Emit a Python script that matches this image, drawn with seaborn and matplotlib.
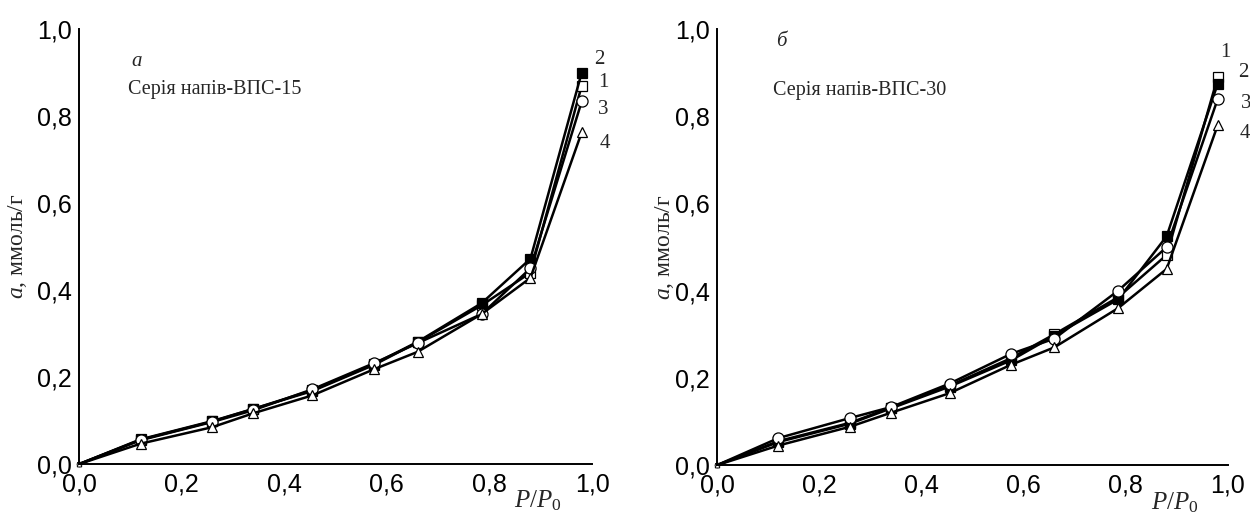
import matplotlib

matplotlib.use("Agg")

import matplotlib.pyplot as plt
import numpy as np
import pandas as pd
import seaborn as sns
from matplotlib.ticker import FuncFormatter, MultipleLocator


P_REL = [0.0, 0.12, 0.26, 0.34, 0.455, 0.575, 0.66, 0.785, 0.88, 0.98]

# panel a: серія напів-ВПС-15
A_S1 = [0.0, 0.057, 0.099, 0.127, 0.168, 0.228, 0.280, 0.365, 0.440, 0.870]
A_S2 = [0.0, 0.056, 0.098, 0.127, 0.170, 0.230, 0.281, 0.370, 0.472, 0.900]
A_S3 = [0.0, 0.055, 0.097, 0.124, 0.172, 0.232, 0.278, 0.345, 0.450, 0.834]
A_S4 = [0.0, 0.047, 0.085, 0.117, 0.158, 0.218, 0.258, 0.345, 0.428, 0.763]

# panel б: серія напів-ВПС-30
B_S1 = [0.0, 0.055, 0.097, 0.132, 0.182, 0.245, 0.300, 0.385, 0.482, 0.890]
B_S2 = [0.0, 0.053, 0.095, 0.130, 0.180, 0.240, 0.297, 0.380, 0.525, 0.875]
B_S3 = [0.0, 0.062, 0.108, 0.133, 0.187, 0.255, 0.290, 0.400, 0.500, 0.840]
B_S4 = [0.0, 0.045, 0.088, 0.120, 0.165, 0.230, 0.270, 0.360, 0.450, 0.780]

SERIES_NAMES = ["1", "2", "3", "4"]
MARKERS = ["s", "s", "o", "^"]
FACES = ["white", "black", "white", "white"]

PANELS = [
    {"letter": "a", "title": "Серія напів-ВПС-15", "data": [A_S1, A_S2, A_S3, A_S4],
     "letter_pos": (0.102, 0.925), "title_x": 0.095, "ylab_x": -0.097,
     "labels": [(1.005, 0.93, "2"), (1.012, 0.878, "1"), (1.012, 0.814, "3"), (1.014, 0.738, "4")]},
    {"letter": "б", "title": "Серія напів-ВПС-30", "data": [B_S1, B_S2, B_S3, B_S4],
     "letter_pos": (0.115, 0.972), "title_x": 0.109, "ylab_x": -0.08,
     "labels": [(0.984, 0.947, "1"), (1.02, 0.90, "2"), (1.025, 0.83, "3"), (1.022, 0.76, "4")]},
]


def comma(x, _):
    return f"{x:.1f}".replace(".", ",")


def draw_panel(ax, panel):
    for vals, name, mk, fc in zip(panel["data"], SERIES_NAMES, MARKERS, FACES):
        df = pd.DataFrame({"p": P_REL, "a": vals})
        sns.lineplot(data=df, x="p", y="a", ax=ax, color="black", linewidth=1.8,
                     marker=mk, markersize=7.5 if mk != "o" else 8, markerfacecolor=fc,
                     markeredgecolor="black", markeredgewidth=0.9,
                     markevery=list(range(1, len(P_REL))), clip_on=False)
        # tiny point at the origin
        ax.plot(P_REL[0], vals[0], marker=mk, markersize=3.5, markerfacecolor="white",
                markeredgecolor="black", markeredgewidth=0.6, clip_on=False)

    ax.set_xlim(0, 1)
    ax.set_ylim(0, 1)
    ax.xaxis.set_major_locator(MultipleLocator(0.2))
    ax.xaxis.set_minor_locator(MultipleLocator(0.1))
    ax.yaxis.set_major_locator(MultipleLocator(0.2))
    ax.yaxis.set_minor_locator(MultipleLocator(0.1))
    ax.xaxis.set_major_formatter(FuncFormatter(comma))
    ax.yaxis.set_major_formatter(FuncFormatter(comma))
    ax.tick_params(which="both", direction="in", width=1.3, color="black",
                   labelsize=18, labelcolor="black", labelfontfamily="Liberation Sans")
    ax.tick_params(axis="x", pad=6)
    ax.tick_params(axis="y", pad=5)
    ax.tick_params(which="major", length=5)
    ax.tick_params(which="minor", length=3.5)

    for side in ["top", "right"]:
        ax.spines[side].set_visible(False)
    for side in ["left", "bottom"]:
        ax.spines[side].set_color("black")
        ax.spines[side].set_linewidth(1.4)

    ax.set_xlabel("")
    ax.set_ylabel(r"$a$, ммоль/г", family="Liberation Serif", fontsize=17)
    ax.yaxis.set_label_coords(panel["ylab_x"], 0.5)

    ax.text(0.895, -0.085, r"$P/P_0$", transform=ax.transAxes, fontsize=18,
            ha="center", va="center")
    lx, ly = panel["letter_pos"]
    ax.text(lx, ly, panel["letter"], transform=ax.transAxes, fontsize=15,
            style="italic", family="Liberation Serif", ha="left", va="center")
    ax.text(panel["title_x"], 0.86, panel["title"], transform=ax.transAxes, fontsize=14.5,
            family="Liberation Serif", ha="left", va="center")
    for x, y, t in panel["labels"]:
        ax.text(x, y, t, transform=ax.transAxes, fontsize=15, family="Liberation Serif",
                ha="left", va="center")


def main():
    sns.set_theme(style="white")
    plt.rcParams["font.family"] = ["Liberation Serif", "DejaVu Sans"]
    plt.rcParams["mathtext.fontset"] = "custom"
    plt.rcParams["mathtext.rm"] = "Liberation Serif"
    plt.rcParams["mathtext.it"] = "Liberation Serif:italic"

    fig = plt.figure(figsize=(12.5, 5.18), dpi=100)
    ax_a = fig.add_axes([0.0632, 0.104, 0.4104, 0.840])
    ax_b = fig.add_axes([0.5736, 0.102, 0.4088, 0.842])
    draw_panel(ax_a, PANELS[0])
    draw_panel(ax_b, PANELS[1])

    fig.savefig("out.png", dpi=100, facecolor="white")
    plt.close(fig)


if __name__ == "__main__":
    main()
